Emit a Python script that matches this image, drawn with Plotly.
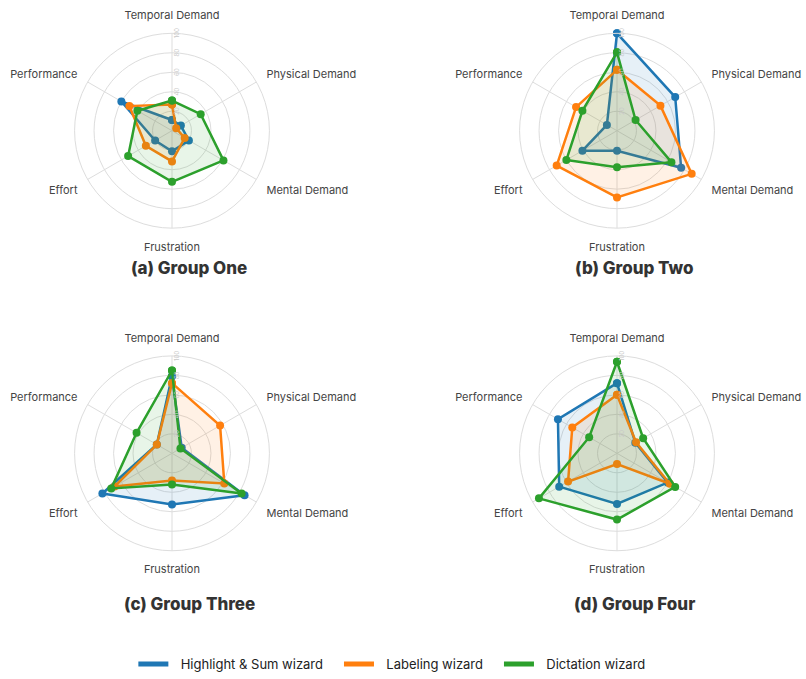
import plotly.graph_objects as go

# NASA-TLX dimensions, clockwise from the top
dimensions = ["Temporal Demand", "Physical Demand", "Mental Demand",
              "Frustration", "Effort", "Performance"]

wizards = ["Highlight & Sum wizard", "Labeling wizard", "Dictation wizard"]
colors = ["#1f77b4", "#ff7f0e", "#2ca02c"]
fills = ["rgba(31,119,180,0.11)", "rgba(255,127,14,0.11)", "rgba(44,160,44,0.11)"]

group_titles = ["(a) Group One", "(b) Group Two", "(c) Group Three", "(d) Group Four"]

# Scores per group: [Highlight & Sum, Labeling, Dictation]
group_one = [
    [11, 10.5, 20, 21, 20, 60],
    [27, 5, 15, 31.5, 31, 50.5],
    [31, 34, 61, 52.5, 52, 41],
]
group_two = [
    [100, 69, 76, 20.5, 41, 12],
    [62.5, 51.5, 88.5, 68.5, 71.5, 48.5],
    [80.5, 22, 64.5, 37.5, 60, 41],
]
group_three = [
    [79, 11.5, 86, 52.5, 82.5, 18],
    [72, 57, 62, 28, 68, 18],
    [85, 10, 82.5, 32, 72, 42],
]
group_four = [
    [72, 21.7, 60, 52, 68.5, 70],
    [60, 22.6, 62.5, 11, 58, 53],
    [94, 31, 69, 68, 92.5, 33],
]
groups = [group_one, group_two, group_three, group_four]

W, H = 806, 679
centers = [(172, 131.5), (617, 131.5), (172, 456), (617, 456)]
radius = 98

fig = go.Figure()

for gi, scores in enumerate(groups):
    sub = "polar" if gi == 0 else f"polar{gi + 1}"
    for wi, vals in enumerate(scores):
        fig.add_trace(go.Scatterpolar(
            r=vals + vals[:1],
            theta=dimensions + dimensions[:1],
            mode="lines+markers",
            fill="toself",
            fillcolor=fills[wi],
            line=dict(color=colors[wi], width=2.5),
            marker=dict(color=colors[wi], size=8),
            name=wizards[wi],
            showlegend=False,
            subplot=sub,
        ))

# Legend entries drawn as plain thick lines
nb = "\u00a0"
for wi, name in enumerate(wizards):
    fig.add_trace(go.Scatterpolar(
        r=[None], theta=[dimensions[0]], mode="lines",
        line=dict(color=colors[wi], width=5),
        name=nb * 2 + name + nb * 3, showlegend=True, subplot="polar",
    ))

layout = dict(
    width=W, height=H,
    margin=dict(l=0, r=0, t=0, b=0),
    paper_bgcolor="white",
    font=dict(family="Inter, sans-serif", color="#444", size=11),
    showlegend=True,
    legend=dict(
        orientation="h", x=0.493, xanchor="center", y=1 - 668 / H, yanchor="middle",
        font=dict(size=13, color="#222"), itemwidth=30,
        traceorder="normal",
    ),
)

annotations = []
for gi, (cx, cy) in enumerate(centers):
    key = "polar" if gi == 0 else f"polar{gi + 1}"
    xc, yc = cx / W, 1 - cy / H
    dx, dy = radius / W, radius / H
    layout[key] = dict(
        domain=dict(x=[xc - dx, xc + dx], y=[yc - dy, yc + dy]),
        bgcolor="white",
        angularaxis=dict(
            rotation=90, direction="clockwise",
            categoryorder="array", categoryarray=dimensions,
            gridcolor="#dddddd", linecolor="#dddddd", showline=True,
            tickfont=dict(size=11, color="#444"),
            ticks="outside", ticklen=9, tickcolor="rgba(0,0,0,0)",
        ),
        radialaxis=dict(
            range=[0, 100], tickvals=[20, 40, 60, 80, 100],
            angle=90, tickangle=0, showline=False, ticks="",
            gridcolor="#dddddd", tickfont=dict(size=6, color="#c8c8c8"),
        ),
    )
    ty = 270 if gi < 2 else 608
    annotations.append(dict(
        text=group_titles[gi], x=(cx + 17) / W, y=1 - ty / H,
        xref="paper", yref="paper", showarrow=False,
        xanchor="center", yanchor="middle",
        font=dict(size=17, color="#333", weight=800),
    ))
layout["annotations"] = annotations

fig.update_layout(**layout)
fig.write_html("out.html")
